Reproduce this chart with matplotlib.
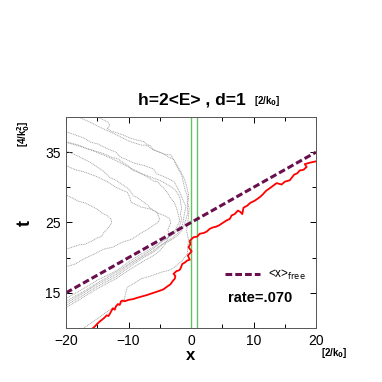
import matplotlib
matplotlib.use("Agg")
import matplotlib.pyplot as plt
from matplotlib.lines import Line2D
from matplotlib.ticker import FixedLocator

plt.rcParams['font.family'] = ['Liberation Sans', 'DejaVu Sans']

# free expectation value line
free_x = [-20, 20]
free_t = [15, 35]

# barrier edges
barrier_x = [0, 1]

# transmitted (red) trajectory
red_x = [-15.9, -15.3, -15, -14.5, -14.2, -13.8, -13.5, -13.2, -13, -12.5, -12.2, -12, -11.7, -11.4, -11.2,
         -10.9, -10.6, -10, -9.3, -8.6, -7.8, -7, -6, -5, -4.4, -3.8, -3.3, -2.9, -2.6, -2.5, -2.8, -2.3,
         -1.9, -1.7, -1.4, -1.0, -0.6, -0.2, -0.5, 0.1, -0.4, -0.1, -0.2, 0.4, 1.0, 1.4, 2.0, 2.5, 3.0,
         3.5, 4.0, 4.5, 5.0, 5.7, 6.2, 6.5, 7.0, 7.5, 7.9, 8.2, 8.4, 9.0, 9.5, 10.2, 11, 11.5, 12, 12.8,
         13.7, 14.5, 15.0, 15.8, 16.5, 17.0, 17.4, 18.0, 18.5, 18.2, 19, 19.5, 20]
red_t = [9.8, 10.3, 10.6, 11.0, 11.2, 11.5, 11.8, 11.7, 12.0, 12.8, 12.6, 13.1, 13.4, 13.3, 13.8,
         13.9, 13.8, 14.0, 14.1, 14.3, 14.5, 14.7, 15.0, 15.3, 15.5, 15.9, 16.2, 16.7, 17.0, 17.4, 17.7, 18.1,
         18.2, 18.4, 19.1, 19.3, 19.6, 19.7, 20.3, 20.9, 21.5, 21.9, 22.4, 22.9, 23.0, 23.4, 23.5, 23.7, 24.1,
         24.3, 24.4, 24.6, 24.9, 25.3, 25.5, 26.0, 26.2, 26.7, 26.5, 26.2, 27.1, 27.4, 27.8, 28.1, 28.6, 29.0, 29.5, 30.0,
         30.6, 30.4, 30.8, 31.0, 31.8, 32.0, 32.4, 32.5, 32.9, 33.3, 33.5, 33.6, 33.7]

# reflected / other (gray) trajectories
g1_x = [-20, -17, -15, -12, -10, -8, -6, -4.5, -3, -2.2, -1.5, -1.1, -0.8, -0.5, -0.6, -0.4, -0.9, -1.1, -1.3, -1.6, -2.0, -2.5, -3.2, -4.2, -5, -6.4, -7.0, -7.5, -9, -10.0, -10.7, -12, -12.8, -13.4, -13.0, -13.2, -14.0, -15]
g1_t = [13.2, 14.8, 15.9, 17.3, 18.6, 19.8, 20.8, 21.9, 22.6, 23.1, 23.8, 24.6, 25.5, 26.4, 27.5, 28.4, 29.5, 30.2, 31.0, 32.2, 32.8, 33.5, 34.6, 34.7, 35.0, 35.5, 36.0, 36.5, 36.8, 37.1, 37.4, 37.8, 38.0, 38.4, 38.8, 39.2, 39.6, 40.0]
g2_x = [-20, -17, -15, -12, -10, -8, -6, -4.5, -3, -2.0, -1.4, -1.2, -1.0, -0.8, -1.2, -1.6, -2.2, -2.4, -2.7, -3.8, -4.8, -5.5, -6, -7.5, -9, -10.7, -11.3, -12, -13.4, -15, -16.0, -17.1, -19, -20]
g2_t = [13.5, 15.1, 16.2, 17.6, 18.9, 20.0, 21.0, 22.0, 22.8, 23.6, 24.5, 25.5, 26.5, 27.3, 28.0, 28.9, 30.0, 30.3, 30.8, 31.3, 31.7, 31.9, 32.6, 33.1, 33.4, 34.1, 34.3, 35.0, 35.5, 36.2, 36.4, 37.0, 37.6, 37.9]
g3_x = [-20, -17, -15, -12, -10, -8, -6, -4.8, -3.5, -2.6, -2.2, -1.8, -2.0, -2.3, -2.7, -3.3, -3.8, -4.5, -5.4, -6.0, -7, -8.6, -9.3, -10, -11.8, -12.5, -14, -16.6, -18, -20]
g3_t = [13.8, 15.3, 16.4, 17.9, 19.1, 20.2, 21.3, 22.2, 23.0, 23.8, 24.5, 25.2, 26.0, 27.0, 27.9, 28.5, 29.3, 30.0, 30.8, 30.9, 31.5, 32.2, 32.4, 33.0, 34.1, 34.2, 34.8, 35.5, 36.0, 36.5]
g4_x = [-20, -17, -15, -12, -10, -8, -6, -5.0, -4.2, -3.5, -3.7, -3.2, -3.5, -4.3, -5.2, -6.4, -8, -9.6, -9.8, -10.2, -11.0, -12, -13.4, -15, -17.1, -18.5, -20]
g4_t = [12.9, 14.5, 15.6, 17.0, 18.2, 19.3, 20.3, 21.0, 21.8, 23.2, 24.0, 25.0, 25.6, 26.0, 26.3, 26.9, 27.2, 27.9, 28.6, 29.3, 29.6, 30.0, 30.8, 31.5, 32.2, 32.5, 33.1]
g5_x = [-20, -18, -17, -16, -15, -14.3, -14, -13, -12.7, -12.8, -13.4, -14.2, -15, -17, -18.0, -19, -20]
g5_t = [21.2, 21.8, 21.9, 22.3, 22.8, 23.0, 23.5, 24.5, 25.0, 25.5, 26.0, 26.3, 26.9, 27.8, 28.0, 28.5, 28.9]
g6_x = [-20, -18.5, -17, -15.5, -14, -12.5, -11, -9.5, -8, -7, -6, -5.3, -5, -5.5, -6.2, -7, -8.5, -9.2, -10, -12, -13.0, -14, -16, -18, -20]
g6_t = [18.7, 19.1, 19.9, 20.5, 21.2, 21.5, 22.2, 22.6, 23.5, 24.0, 24.6, 25.0, 25.5, 26.5, 26.8, 27.5, 28.5, 28.8, 29.8, 31.0, 31.4, 32.3, 33.5, 34.4, 35.2]
g7_x = [-17.1, -16, -15, -13, -11.5, -10.7, -10.5, -10.2, -9.0, -8, -6.4, -4.5, -3.5, -2.7, -1.5, -0.6, -0.4, -0.7, -0.5, -0.3, -0.6, -0.4, -0.8, -1.2, -2, -2.8, -3.6, -4.5, -6, -6.6, -8, -10, -12, -14, -16, -18]
g7_t = [10.0, 10.7, 11.3, 12.6, 13.2, 13.9, 14.8, 15.8, 16.4, 17.0, 17.4, 18.0, 18.2, 18.6, 19.5, 20.5, 22.5, 23.8, 25.0, 27.0, 28.0, 29.0, 30.5, 31.5, 32.5, 34.0, 34.3, 34.8, 35.3, 36.0, 36.0, 36.6, 37.5, 38.3, 39.2, 40.0]
g8_x = [-20, -17, -15, -12, -10, -8, -6, -4.5, -3, -2.3, -1.8, -1.5, -1.7, -1.5, -1.8, -2.5, -3.4, -5, -6.6, -8, -10, -12, -14, -16, -18, -20]
g8_t = [14.2, 15.7, 16.8, 18.1, 19.4, 20.5, 21.5, 22.4, 23.2, 23.8, 24.5, 25.5, 26.2, 27.0, 28.6, 29.6, 30.2, 31.0, 31.5, 32.0, 32.9, 33.8, 34.6, 35.3, 35.9, 36.4]

gray_x = [g1_x, g2_x, g3_x, g4_x, g5_x, g6_x, g7_x, g8_x]
gray_t = [g1_t, g2_t, g3_t, g4_t, g5_t, g6_t, g7_t, g8_t]

xticks = [-20, -10, 0, 10, 20]
yticks = [15, 25, 35]

fig = plt.figure(figsize=(3.82, 3.82), dpi=100)
ax = fig.add_axes([66/382, 54/382, 250/382, 211/382])

for gx, gt in zip(gray_x, gray_t):
    ax.plot(gx, gt, color='#9a9a9a', lw=0.6, ls=(0, (1.2, 0.9)))

for bx in barrier_x:
    ax.axvline(bx, color='#66c266', lw=1.0)

ax.plot(red_x, red_t, color='#ff0000', lw=1.3)
ax.plot(free_x, free_t, color='#6a0f4e', lw=2.2, ls=(0, (2.2, 1.0)))

ax.set_xlim(-20, 20)
ax.set_ylim(10, 40)
ax.xaxis.set_major_locator(FixedLocator(xticks))
ax.xaxis.set_minor_locator(FixedLocator([-15, -5, 5, 15]))
ax.yaxis.set_major_locator(FixedLocator(yticks))
ax.yaxis.set_minor_locator(FixedLocator([20, 30]))
ax.tick_params(which='both', direction='in', top=True, right=True, width=0.7, labelsize=10, pad=4)
ax.tick_params(which='major', length=4)
ax.tick_params(which='minor', length=3)
for s in ax.spines.values():
    s.set_linewidth(0.7)
    s.set_color('#555555')

ax.set_xlabel('x', fontsize=12, fontweight='bold', labelpad=0)
ax.set_ylabel('t', fontsize=13, fontweight='bold', labelpad=8, rotation=90)

fig.text(192/382, 1 - 100/382, 'h=2<E> , d=1', ha='center', va='center', fontsize=12.5, fontweight='bold')
fig.text(254/382, 1 - 101/382, '[2/k$_\\mathbf{0}$]', ha='left', va='center', fontsize=7, fontweight='bold')
fig.text(321/382, 1 - 353/382, '[2/k$_\\mathbf{0}$]', ha='left', va='center', fontsize=7, fontweight='bold')
fig.text(24/382, 1 - 134/382, '[4/k$_\\mathbf{0}^\\mathbf{2}$]', ha='center', va='center', fontsize=7,
         fontweight='bold', rotation=90)

h = Line2D([], [], color='#6a0f4e', lw=2.2, ls=(0, (2.2, 1.0)))
ax.legend([h], ['<x>$_{\\rm free}$'], loc='lower right', bbox_to_anchor=(0.99, 0.18),
          frameon=False, fontsize=8.5, handlelength=3, handletextpad=0.6, borderpad=0.2)
ax.text(0.775, 0.14, 'rate=.070', transform=ax.transAxes, ha='center', va='center',
        fontsize=10.5, fontweight='bold')

fig.savefig('out.png', dpi=100)
